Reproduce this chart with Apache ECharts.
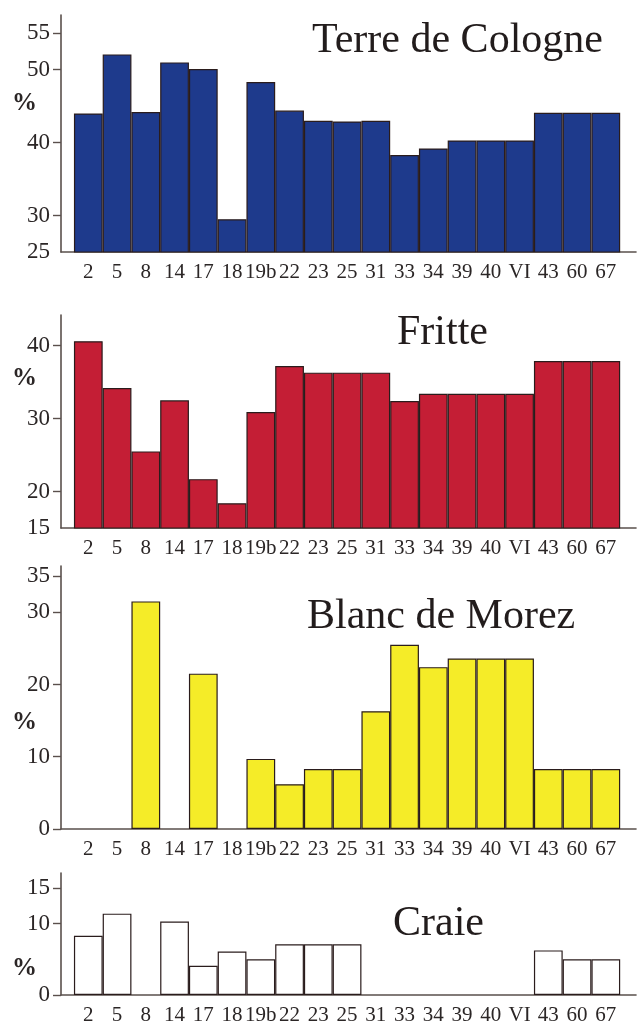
<!DOCTYPE html>
<html><head><meta charset="utf-8">
<script src="https://cdn.jsdelivr.net/npm/echarts@6/dist/echarts.min.js"></script>
<style>html,body{margin:0;padding:0;background:#fff}#c{width:638px;height:1026px}</style>
</head><body><div id="c"></div>
<script>
const categories = ['2','5','8','14','17','18','19b','22','23','25','31','33','34','39','40','VI','43','60','67'];
const terreDeCologne = [44.0,52.1,44.2,51.0,50.1,29.5,48.3,44.4,43.0,42.9,43.0,38.3,39.2,40.3,40.3,40.3,44.1,44.1,44.1];
const fritte = [40.6,34.2,25.5,32.5,21.7,18.4,30.9,37.2,36.3,36.3,36.3,32.4,33.4,33.4,33.4,33.4,37.9,37.9,37.9];
const blancDeMorez = [0,0,31.5,0,21.5,0,9.7,6.2,8.3,8.3,16.3,25.5,22.4,23.6,23.6,23.6,8.3,8.3,8.3];
const craie = [8.3,11.4,0,10.3,4.1,6.1,5.0,7.1,7.1,7.1,0,0,0,0,0,0,6.25,5.0,5.0];
const titles = ['Terre de Cologne','Fritte','Blanc de Morez','Craie'];
const yTicks = [[30,40,50,55],[20,30,40],[0,10,20,30,35],[0,10,15]];
const yLabels = [[25,30,40,50,55],[15,20,30,40],[0,10,20,30,35],[0,10,15]];

const panels = [
  {data: terreDeCologne, color:'#1e3a8c', min:25, max:57.5, top:15, bottom:252, title:{x:312,y:20}, pct:103},
  {data: fritte, color:'#c41e35', min:15, max:44.2, top:315, bottom:528, title:{x:397,y:312}, pct:378},
  {data: blancDeMorez, color:'#f5ec28', min:0, max:36.4, top:566, bottom:829, title:{x:307,y:596}, pct:722},
  {data: craie, color:'#ffffff', min:0, max:17.1, top:873, bottom:997, title:{x:393,y:903}, pct:968}
];
const serif = '"Liberation Serif", "DejaVu Serif", serif';
const ink = '#2b2626';
const axisCol = '#5a504c';
const idx = categories.map((c,i)=>i);

const grid=[], xAxis=[], yAxis=[], series=[], title=[];
panels.forEach((p,k)=>{
  grid.push({left:61, right:2, top:p.top, height:p.bottom-p.top});
  xAxis.push({type:'value', gridIndex:k, min:-0.95, max:19.05,
    splitLine:{show:false},
    axisLine:{show:true, lineStyle:{color:axisCol, width:1.6}},
    axisTick:{show:false},
    axisLabel:{show:true, customValues:idx, formatter:v=>categories[Math.round(v)],
      color:ink, fontFamily:serif, fontSize:21, margin:10, hideOverlap:false}});
  yAxis.push({type:'value', gridIndex:k, min:p.min, max:p.max,
    splitLine:{show:false},
    axisLine:{show:true, onZero:false, lineStyle:{color:axisCol, width:1.6}},
    axisTick:{show:true, customValues:yTicks[k], length:8, inside:false, lineStyle:{color:axisCol, width:1.4}},
    axisLabel:{show:true, customValues:yLabels[k], color:ink, fontFamily:serif, fontSize:23, margin:11}});
  series.push({type:'bar', xAxisIndex:k, yAxisIndex:k, barWidth:'100%',
    data:p.data.map((v,i)=>[i, v>0? v : null]),
    itemStyle:{color:p.color, borderColor:'#2a1c1c', borderWidth:1.2},
    emphasis:{disabled:true}, animation:false});
  title.push({text:titles[k], left:p.title.x, top:p.title.y,
    textStyle:{fontFamily:serif, fontSize:42, fontWeight:'normal', color:'#221c1c'}, padding:0});
  title.push({text:'%', left:12, top:p.pct-12,
    textStyle:{fontFamily:serif, fontSize:25, fontWeight:'bold', color:ink}, padding:0});
});

const chart = echarts.init(document.getElementById('c'), null, {renderer:'canvas'});
chart.setOption({animation:false, title, grid, xAxis, yAxis, series});
</script>
</body></html>
